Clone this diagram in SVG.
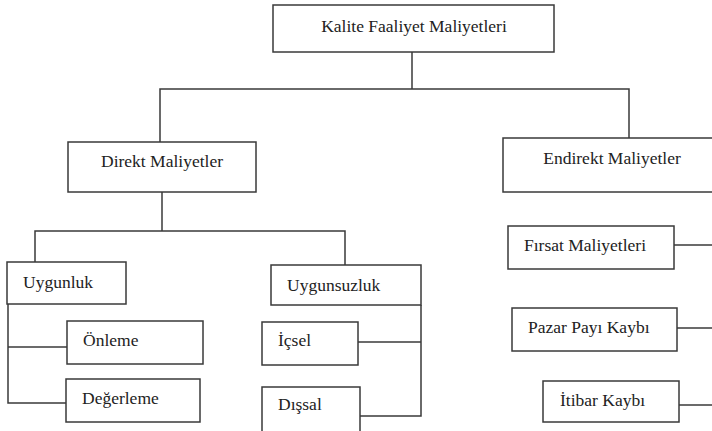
<svg xmlns="http://www.w3.org/2000/svg" width="712" height="431" viewBox="0 0 712 431">
<style>
.b{fill:#fff;stroke:#3a3a3a;stroke-width:1.5}
line,polyline{fill:none;stroke:#3a3a3a;stroke-width:1.5}
text{font-family:"Liberation Serif","Times New Roman",serif;font-size:17.5px;fill:#222}
.c{text-anchor:middle}
</style>
<rect width="712" height="431" fill="#fff"/>
<g id="connectors">
<line x1="412" y1="52" x2="412" y2="89"/>
<polyline points="160,142 160,89 629,89 629,138"/>
<line x1="162" y1="192" x2="162" y2="231"/>
<polyline points="35,262 35,231 345,231 345,265"/>
<polyline points="8,304 8,403 66,403"/>
<line x1="8" y1="347" x2="67" y2="347"/>
<polyline points="421,305 421,416 360,416"/>
<line x1="358" y1="342" x2="421" y2="342"/>
<line x1="674" y1="245" x2="712" y2="245"/>
<line x1="677" y1="328" x2="712" y2="328"/>
<line x1="679" y1="405" x2="712" y2="405"/>
</g>
<g id="kalite"><rect class="b" x="273" y="5" width="281" height="47"/><text x="414" y="32" class="c">Kalite Faaliyet Maliyetleri</text></g>
<g id="direkt"><rect class="b" x="68" y="142" width="188" height="50"/><text x="162" y="167" class="c">Direkt Maliyetler</text></g>
<g id="endirekt"><rect class="b" x="503" y="138" width="215" height="54"/><text x="612" y="164" class="c">Endirekt Maliyetler</text></g>
<g id="uygunluk"><rect class="b" x="7" y="262" width="119" height="42"/><text x="23" y="288">Uygunluk</text></g>
<g id="uygunsuzluk"><rect class="b" x="271" y="265" width="150" height="40"/><text x="287" y="291">Uygunsuzluk</text></g>
<g id="onleme"><rect class="b" x="67" y="321" width="136" height="43"/><text x="83" y="346">Önleme</text></g>
<g id="degerleme"><rect class="b" x="66" y="379" width="134" height="43"/><text x="82" y="404">Değerleme</text></g>
<g id="icsel"><rect class="b" x="262" y="322" width="96" height="43"/><text x="278" y="346">İçsel</text></g>
<g id="dissal"><rect class="b" x="262" y="387" width="98" height="50"/><text x="278" y="410">Dışsal</text></g>
<g id="firsat"><rect class="b" x="508" y="226" width="166" height="43"/><text x="524" y="251">Fırsat Maliyetleri</text></g>
<g id="pazar"><rect class="b" x="512" y="308" width="165" height="43"/><text x="528" y="333">Pazar Payı Kaybı</text></g>
<g id="itibar"><rect class="b" x="543" y="381" width="136" height="41"/><text x="560" y="406">İtibar Kaybı</text></g>
</svg>
